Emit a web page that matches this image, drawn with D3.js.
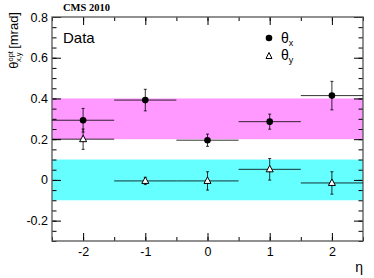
<!DOCTYPE html>
<html><head><meta charset="utf-8">
<script src="https://cdn.jsdelivr.net/npm/d3@7"></script>
<style>body{margin:0;background:#fff}svg{display:block}</style>
</head><body>
<script>
const etaBins = [-2, -1, 0, 1, 2];
const etaHalfWidth = [0.5, 0.5, 0.5, 0.5, 0.5];
const thetaX = [0.293, 0.392, 0.195, 0.286, 0.414];
const thetaXErr = [0.058, 0.053, 0.03, 0.037, 0.07];
const thetaY = [0.200, -0.005, -0.005, 0.052, -0.015];
const thetaYErr = [0.05, 0.018, 0.045, 0.053, 0.055];
const bandX = [0.2, 0.4];
const bandY = [-0.1, 0.1];
const yTicks = [-0.2, 0, 0.2, 0.4, 0.6, 0.8];
const xTicks = [-2, -1, 0, 1, 2];

const W = 374, H = 278;
const m = {l: 52, r: 11, t: 17, b: 37};
const svg = d3.select("body").append("svg").attr("width", W).attr("height", H);
const x = d3.scaleLinear().domain([-2.5, 2.5]).range([m.l, W - m.r]);
const y = d3.scaleLinear().domain([-0.3, 0.8]).range([H - m.b, m.t]);
const font = "Liberation Sans, Arial, Helvetica, sans-serif";
const hyph = f => d => f(d).replace("\u2212", "-");

// bands
svg.append("rect").attr("x", x(-2.5)).attr("width", x(2.5) - x(-2.5))
  .attr("y", y(bandX[1])).attr("height", y(bandX[0]) - y(bandX[1])).attr("fill", "#ff99ff");
svg.append("rect").attr("x", x(-2.5)).attr("width", x(2.5) - x(-2.5))
  .attr("y", y(bandY[1])).attr("height", y(bandY[0]) - y(bandY[1])).attr("fill", "#66ffff");

// axes
const yMinor = d3.range(-0.3, 0.8001, 0.05).map(v => +v.toFixed(2));
const xMinor = d3.range(-2.5, 2.5001, 0.5);
const axLlab = d3.axisLeft(y).tickValues(yTicks).tickSize(0).tickPadding(4)
  .tickFormat(d => d === 0 ? "0" : hyph(d3.format(".1f"))(d));
const axL = d3.axisLeft(y).tickValues(yTicks).tickSize(-9).tickFormat("");
const axLm = d3.axisLeft(y).tickValues(yMinor).tickSize(-4.5).tickFormat("");
const axR = d3.axisRight(y).tickValues(yTicks).tickSize(-9).tickFormat("");
const axRm = d3.axisRight(y).tickValues(yMinor).tickSize(-4.5).tickFormat("");
const axBlab = d3.axisBottom(x).tickValues(xTicks).tickSize(0).tickPadding(6).tickFormat(hyph(d3.format("d")));
const axB = d3.axisBottom(x).tickValues(xTicks).tickSize(-8).tickFormat("");
const axBm = d3.axisBottom(x).tickValues(xMinor).tickSize(-4).tickFormat("");
const axT = d3.axisTop(x).tickValues(xTicks).tickSize(-8).tickFormat("");
const axTm = d3.axisTop(x).tickValues(xMinor).tickSize(-4).tickFormat("");
function styl(g) {
  g.select(".domain").remove();
  g.selectAll("line").attr("stroke", "#000");
  g.selectAll("text").attr("font-family", font).attr("font-size", 12.5).attr("fill", "#000");
}
const L = `translate(${m.l},0)`, R = `translate(${W - m.r},0)`, B = `translate(0,${H - m.b})`, T = `translate(0,${m.t})`;
svg.append("g").attr("transform", L).call(axLlab).call(styl);
svg.append("g").attr("transform", L).call(axL).call(styl);
svg.append("g").attr("transform", L).call(axLm).call(styl);
svg.append("g").attr("transform", R).call(axR).call(styl);
svg.append("g").attr("transform", R).call(axRm).call(styl);
svg.append("g").attr("transform", B).call(axBlab).call(styl);
svg.append("g").attr("transform", B).call(axB).call(styl);
svg.append("g").attr("transform", B).call(axBm).call(styl);
svg.append("g").attr("transform", T).call(axT).call(styl);
svg.append("g").attr("transform", T).call(axTm).call(styl);

// frame
svg.append("rect").attr("x", m.l).attr("y", m.t).attr("width", W - m.r - m.l).attr("height", H - m.b - m.t)
  .attr("fill", "none").attr("stroke", "#555").attr("stroke-width", 1.3);

// data
function drawSeries(vals, errs, sym) {
  const g = svg.append("g");
  etaBins.forEach((e, i) => {
    g.append("line").attr("x1", x(e - etaHalfWidth[i])).attr("x2", x(e + etaHalfWidth[i]))
      .attr("y1", y(vals[i])).attr("y2", y(vals[i])).attr("stroke", "#000").attr("stroke-opacity", 0.8);
    g.append("line").attr("x1", x(e)).attr("x2", x(e))
      .attr("y1", y(vals[i] - errs[i])).attr("y2", y(vals[i] + errs[i])).attr("stroke", "#000").attr("stroke-opacity", 0.8);
    [vals[i] - errs[i], vals[i] + errs[i]].forEach(v => {
      g.append("line").attr("x1", x(e) - 1.5).attr("x2", x(e) + 1.5)
        .attr("y1", y(v)).attr("y2", y(v)).attr("stroke", "#000").attr("stroke-opacity", 0.8);
    });
    if (sym === "circle") {
      g.append("circle").attr("cx", x(e)).attr("cy", y(vals[i])).attr("r", 3.3).attr("fill", "#000");
    } else {
      g.append("path").attr("transform", `translate(${x(e)},${y(vals[i])})`)
        .attr("d", "M0,-4L3.5,2.5L-3.5,2.5Z").attr("fill", "#fff").attr("stroke", "#000").attr("stroke-width", 1);
    }
  });
}
drawSeries(thetaX, thetaXErr, "circle");
drawSeries(thetaY, thetaYErr, "triangle");

// texts
svg.append("text").attr("x", 63).attr("y", 11).attr("font-family", "Liberation Serif, Times New Roman, serif")
  .attr("font-weight", "bold").attr("font-size", 10.5).text("CMS 2010");
svg.append("text").attr("x", 63).attr("y", 43).attr("font-family", font).attr("font-size", 15).text("Data");

// legend
svg.append("circle").attr("cx", 269).attr("cy", 38).attr("r", 3.3).attr("fill", "#000");
svg.append("text").attr("x", 281).attr("y", 43).attr("font-family", font).attr("font-size", 14).text("θ")
  .append("tspan").attr("font-size", 9).attr("dy", 3).text("x");
svg.append("path").attr("transform", "translate(269,56)").attr("d", "M0,-3.5L3,2.5L-3,2.5Z")
  .attr("fill", "#fff").attr("stroke", "#000");
svg.append("text").attr("x", 281).attr("y", 60).attr("font-family", font).attr("font-size", 14).text("θ")
  .append("tspan").attr("font-size", 9).attr("dy", 3).text("y");

// y axis title
const yt = svg.append("text").attr("transform", "translate(18,12) rotate(-90)").attr("text-anchor", "end")
  .attr("font-family", font).attr("font-size", 13);
yt.append("tspan").text("θ");
yt.append("tspan").attr("font-size", 7.5).attr("dy", -5).text("opt");
yt.append("tspan").attr("font-size", 7.5).attr("dx", -11).attr("dy", 8).text("x,y");
yt.append("tspan").attr("dy", -3).text(" [mrad]");

// x axis title
svg.append("text").attr("x", 363).attr("y", 272).attr("text-anchor", "end").attr("font-family", font)
  .attr("font-size", 14).text("η");
</script>
</body></html>
